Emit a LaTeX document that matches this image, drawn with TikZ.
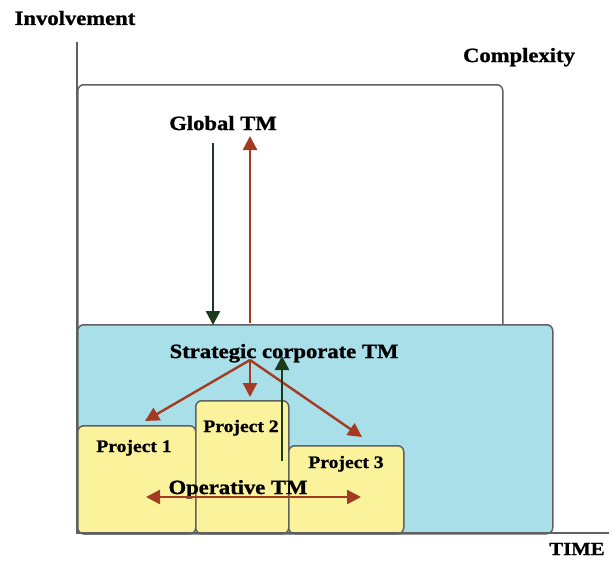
\documentclass[tikz,border=0pt]{standalone}
\usepackage{fontspec}
\setmainfont{Liberation Serif}[FakeStretch=1.12, FakeBold=1.2]
\usetikzlibrary{arrows.meta}
\definecolor{skyfill}{HTML}{A9DFE9}
\definecolor{projfill}{HTML}{FBF39C}
\definecolor{redarr}{HTML}{A33A22}
\definecolor{greenarr}{HTML}{1C3A1C}
\definecolor{edgegrey}{HTML}{606060}
\begin{document}
\begin{tikzpicture}[x=1pt,y=-1pt,
  lbl/.style={font=\bfseries\fontsize{20.2}{22}\selectfont, inner sep=0pt},
  plbl/.style={font=\bfseries\fontsize{17.5}{20}\selectfont, inner sep=0pt},
  area/.style={draw=edgegrey, line width=1.5pt, rounded corners=6pt, inner sep=0pt, anchor=north west},
  axis/.style={draw=edgegrey, line width=1.6pt},
  tip/.style={},
  redline/.style={draw=redarr, line width=2.4pt, -{Triangle[length=14pt,width=14pt]}},
  greenline/.style={draw=greenarr, line width=2.4pt, -{Triangle[length=14pt,width=14pt]}}]
\useasboundingbox (0,0) rectangle (613,560);
% boxes
\node[area, fill=white, minimum width=425pt, minimum height=250pt] (global) at (77,84) {};
\node[area, fill=skyfill, minimum width=475pt, minimum height=209pt] (strat) at (77,324) {};
\node[area, fill=projfill, minimum width=118pt, minimum height=108pt] (p1) at (77,425) {};
\node[area, fill=projfill, minimum width=93pt, minimum height=133pt] (p2) at (195,400) {};
\node[area, fill=projfill, minimum width=115pt, minimum height=88pt] (p3) at (288,445) {};
% axes
\coordinate (ytop) at (77,42);
\coordinate (orig) at (77,533);
\coordinate (xend) at (609,533);
\draw[axis] (ytop) -- (orig) -- (xend);
% labels
\node[lbl] (inv) at (75,18) {Involvement};
\node[lbl, anchor=base] (cx) at (519,62) {Complexity};
\node[lbl, anchor=base] (gtm) at (223,130) {Global TM};
\node[lbl, anchor=base] (stm) at (284,358) {Strategic corporate TM};
\node[plbl, anchor=base] (l1) at (134,452) {Project 1};
\node[plbl, anchor=base] (l2) at (241,432) {Project 2};
\node[plbl, anchor=base] (l3) at (346,468) {Project 3};
\node[lbl, anchor=base] (otm) at (238,494) {Operative TM};
\node[lbl, anchor=base, font=\bfseries\fontsize{18.5}{20}\selectfont] (time) at (577,555) {TIME};
% arrows
\coordinate (gd1) at (213,143);
\coordinate (gd2) at (213,325);
\coordinate (ru1) at (250,323);
\coordinate (ru2) at (250,136);
\coordinate (src) at (250,360);
\coordinate (t1) at (145,421);
\coordinate (t2) at (250,397);
\coordinate (t3) at (362,437);
\coordinate (gu1) at (282,461);
\coordinate (gu2) at (282,356);
\coordinate (dl) at (146,497);
\coordinate (dr) at (361,497);
\draw[greenline] (gd1) -- (gd2);
\draw[redline] (ru1) -- (ru2);
\draw[redline] (src) -- (t1);
\draw[redline] (src) -- (t2);
\draw[redline] (src) -- (t3);
\draw[greenline] (gu1) -- (gu2);
\draw[redline, {Triangle[length=14pt,width=14pt]}-{Triangle[length=14pt,width=14pt]}] (dl) -- (dr);
\end{tikzpicture}
\end{document}
